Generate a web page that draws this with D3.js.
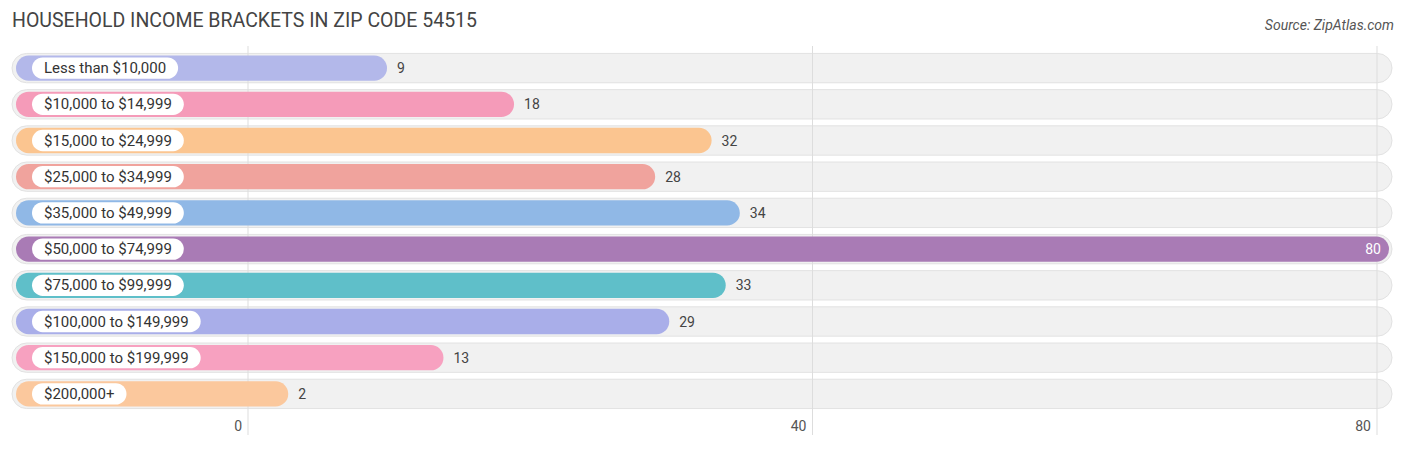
<!DOCTYPE html><html><head><meta charset="utf-8"><script src="https://cdn.jsdelivr.net/npm/d3@7"></script>
<style>body{margin:0;background:#fff;font-family:Roboto,"Noto Sans",sans-serif}</style></head><body><svg id="c" width="1406" height="450"></svg>
<script>
const categories=["Less than $10,000","$10,000 to $14,999","$15,000 to $24,999","$25,000 to $34,999","$35,000 to $49,999","$50,000 to $74,999","$75,000 to $99,999","$100,000 to $149,999","$150,000 to $199,999","$200,000+"];
const values=[9,18,32,28,34,80,33,29,13,2];
const colors=["#b3b8ea","#f59bb9","#fbc590","#f0a39d","#90b8e6","#a97bb5","#5fbfc9","#a9aee9","#f7a1c0","#fbc89d"];
const ticks=[0,40,80];
const svg=d3.select("#c");
const x=d3.scaleLinear().domain([0,80]).range([248,1377]);
const y=d3.scaleBand().domain(categories).range([50,412]).paddingInner(0.3).paddingOuter(0.15);
svg.append("text").attr("x",12).attr("y",27).attr("font-size",19.5).attr("fill","#444").text("HOUSEHOLD INCOME BRACKETS IN ZIP CODE 54515");
svg.append("text").attr("x",1394).attr("y",30).attr("text-anchor","end").attr("font-size",14).attr("font-style","italic").attr("fill","#555").text("Source: ZipAtlas.com");
const g=svg.append("g");
categories.forEach((c,i)=>{
 const yy=y(c),h=y.bandwidth();
 g.append("rect").attr("x",12).attr("y",yy-2).attr("width",1380).attr("height",h+4).attr("rx",(h+4)/2).attr("fill","#f1f1f1").attr("stroke","#e2e2e2");
});
svg.selectAll(".grid").data(ticks).join("line").attr("x1",d=>x(d)).attr("x2",d=>x(d)).attr("y1",46).attr("y2",435).attr("stroke","#ddd");
const g2=svg.append("g");
categories.forEach((c,i)=>{
 const yy=y(c),h=y.bandwidth(),v=values[i],end=x(v)+12;
 g2.append("rect").attr("x",16).attr("y",yy).attr("width",end-16).attr("height",h).attr("rx",h/2).attr("fill",colors[i]);
 const pill=g2.append("rect").attr("x",32).attr("y",yy+2).attr("height",h-4).attr("rx",(h-4)/2).attr("fill","#fff");
 const t=g2.append("text").attr("x",44).attr("y",yy+h/2+5).attr("font-size",15).attr("fill","#333").text(c);
 pill.attr("width",t.node().getComputedTextLength()+24);
 const inside=v>70;
 g2.append("text").attr("x",inside?end-8:end+10).attr("y",yy+h/2+5).attr("text-anchor",inside?"end":"start").attr("font-size",14).attr("fill",inside?"#fff":"#444").text(v);
});
svg.selectAll(".tl").data(ticks).join("text").attr("x",d=>x(d)-6).attr("y",431).attr("text-anchor","end").attr("font-size",14).attr("fill","#555").text(d=>d);
</script></body></html>
